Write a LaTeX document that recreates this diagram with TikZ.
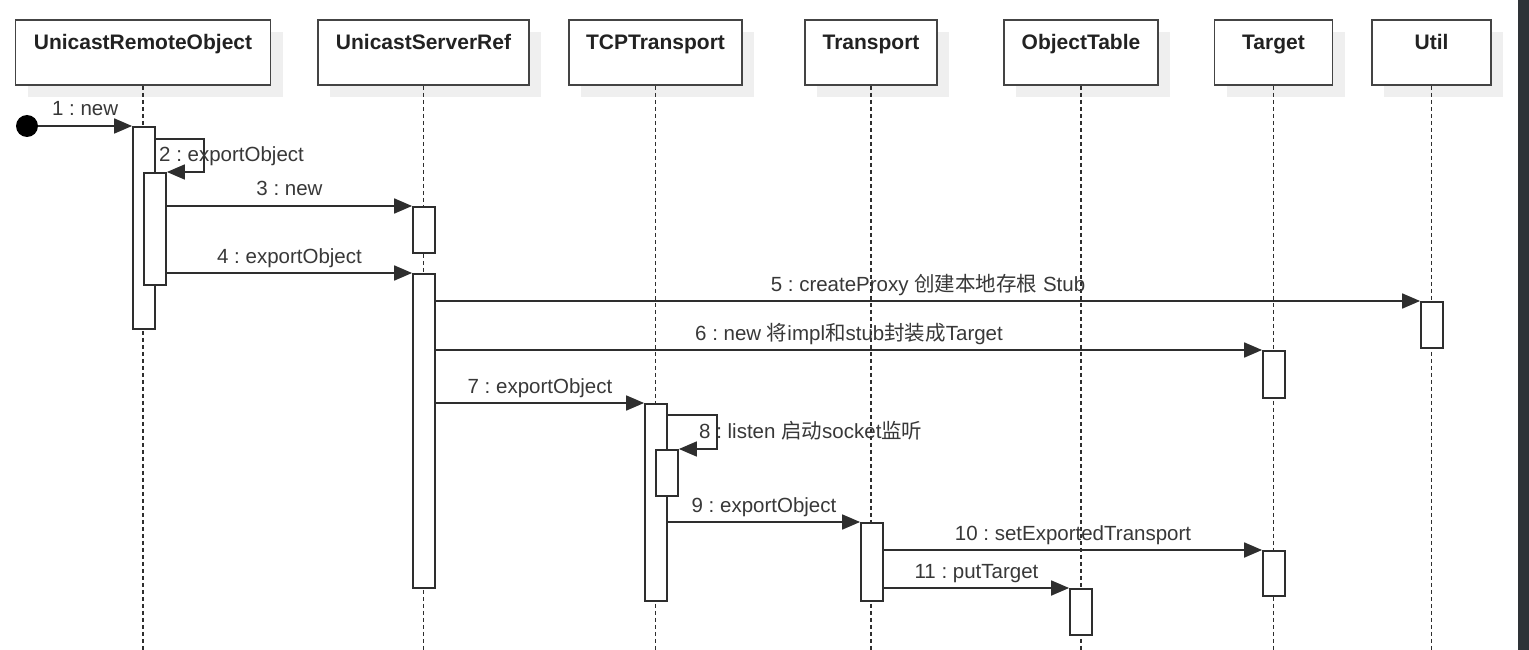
\documentclass[tikz,border=0pt]{standalone}
\usepackage{fontspec}
\setmainfont{Liberation Sans}
\newfontfamily\cjk{Noto Sans CJK SC}
\usetikzlibrary{arrows.meta,shadows}
\definecolor{ln}{HTML}{2E2E2E}
\definecolor{hb}{HTML}{444444}
\definecolor{tx}{HTML}{383838}
\definecolor{hx}{HTML}{222222}
\definecolor{shd}{HTML}{EFEFEF}
\definecolor{strip}{HTML}{2E3237}
\frenchspacing
\begin{document}
\begin{tikzpicture}[x=1pt,y=-1pt,
  hdr/.style={draw=hb, line width=1.8pt, fill=white, minimum height=65pt, inner sep=0pt,
     general shadow={fill=shd, shadow xshift=12pt, shadow yshift=-12pt},
     font=\fontsize{21pt}{25pt}\selectfont\bfseries, text=hx, text height=15pt, text depth=20pt},
  life/.style={draw=ln, line width=1.5pt, dash pattern=on 4pt off 3pt},
  act/.style={draw=ln, fill=white, line width=1.8pt, minimum width=22pt, inner sep=0pt, anchor=north},
  msg/.style={draw=ln, line width=1.8pt, -{Triangle[length=18pt,width=15pt]}},
  lbl/.style={font=\fontsize{20.5pt}{24pt}\selectfont, text=tx, inner sep=0pt, anchor=base, yshift=10pt},
  lblw/.style={font=\fontsize{20.5pt}{24pt}\selectfont, text=tx, inner sep=0pt, anchor=base west},
]
\useasboundingbox (0,0) rectangle (1529,650);
\fill[white] (0,0) rectangle (1529,650);
\fill[strip] (1518,0) rectangle (1529,650);

% headers
\node[hdr, minimum width=255pt] (h1) at (143,52.5) {UnicastRemoteObject};
\node[hdr, minimum width=211pt] (h2) at (423.5,52.5) {UnicastServerRef};
\node[hdr, minimum width=173pt] (h3) at (655.5,52.5) {TCPTransport};
\node[hdr, minimum width=132pt] (h4) at (871,52.5) {Transport};
\node[hdr, minimum width=154pt] (h5) at (1081,52.5) {ObjectTable};
\node[hdr, minimum width=118pt] (h6) at (1273.5,52.5) {Target};
\node[hdr, minimum width=119pt] (h7) at (1431.5,52.5) {Util};

% lifelines
\coordinate (bot) at (0,650);
\foreach \h in {h1,h2,h3,h4,h5,h6,h7}
  \draw[life] (\h.south) -- (\h.south |- bot);

% activations
\node[act, minimum height=202pt] (aU1) at (144,126) {};
\node[act, minimum height=112pt] (aU2) at (155,172) {};
\node[act, minimum height=46pt]  (aS1) at (424,206) {};
\node[act, minimum height=314pt] (aS2) at (424,273) {};
\node[act, minimum height=46pt]  (aUt) at (1432,301) {};
\node[act, minimum height=47pt]  (aT1) at (1274,350) {};
\node[act, minimum height=197pt] (aC1) at (656,403) {};
\node[act, minimum height=46pt]  (aC2) at (667,449) {};
\node[act, minimum height=78pt]  (aR1) at (872,522) {};
\node[act, minimum height=45pt]  (aT2) at (1274,550) {};
\node[act, minimum height=46pt]  (aO)  at (1081,588) {};

% start
\node[circle, fill=black, inner sep=0pt, minimum size=22pt] (start) at (27,126) {};

% messages
\draw[msg] (start) -- node[lbl, midway] {1 : new} (aU1.north west);
\draw[msg] ([yshift=-13pt]aU1.north east) -- ++(48pt,0) |- (aU2.north east);
\node[lblw] (l2) at (159,161) {2 : exportObject};
\draw[msg] (aU2.east |- aS1.north) -- node[lbl, midway] {3 : new} (aS1.north west);
\draw[msg] (aU2.east |- aS2.north) -- node[lbl, midway] {4 : exportObject} (aS2.north west);
\draw[msg] (aS2.east |- aUt.north) -- node[lbl, midway] {5 : createProxy {\cjk 创建本地存根} Stub} (aUt.north west);
\draw[msg] (aS2.east |- aT1.north) -- node[lbl, midway] {6 : new {\cjk 将}impl{\cjk 和}stub{\cjk 封装成}Target} (aT1.north west);
\draw[msg] (aS2.east |- aC1.north) -- node[lbl, midway] {7 : exportObject} (aC1.north west);
\draw[msg] ([yshift=-12pt]aC1.north east) -- ++(49pt,0) |- (aC2.north east);
\node[lblw] (l8) at (699,438) {8 : listen {\cjk 启动}socket{\cjk 监听}};
\draw[msg] (aC1.east |- aR1.north) -- node[lbl, midway] {9 : exportObject} (aR1.north west);
\draw[msg] (aR1.east |- aT2.north) -- node[lbl, midway] {10 : setExportedTransport} (aT2.north west);
\draw[msg] (aR1.east |- aO.north) -- node[lbl, midway] {11 : putTarget} (aO.north west);
\end{tikzpicture}
\end{document}
